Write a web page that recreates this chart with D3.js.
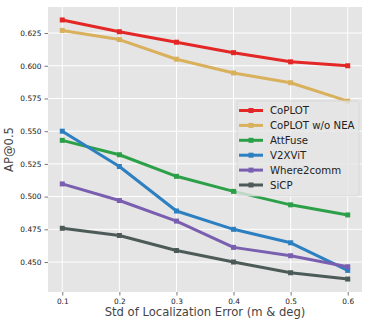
<!DOCTYPE html>
<html>
<head>
<meta charset="utf-8">
<script src="https://cdn.jsdelivr.net/npm/d3@7"></script>
<style>
body { margin: 0; background: #fff; }
text { font-family: "DejaVu Sans", sans-serif; }
</style>
</head>
<body>
<div id="chart"></div>
<script>
const stdErr = [0.1, 0.2, 0.3, 0.4, 0.5, 0.6]
const methods = ["CoPLOT", "CoPLOT w/o NEA", "AttFuse", "V2XViT", "Where2comm", "SiCP"]
const coplot = [0.635, 0.626, 0.618, 0.610, 0.603, 0.600]
const coplotNoNea = [0.627, 0.620, 0.605, 0.5945, 0.587, 0.573]
const attFuse = [0.543, 0.532, 0.5155, 0.504, 0.4937, 0.486]
const v2xvit = [0.550, 0.523, 0.489, 0.475, 0.4647, 0.4436]
const where2comm = [0.5097, 0.497, 0.4813, 0.4612, 0.4548, 0.4464]
const sicp = [0.4758, 0.4703, 0.4588, 0.450, 0.4418, 0.437]
const yTicks = [0.450, 0.475, 0.500, 0.525, 0.550, 0.575, 0.600, 0.625]
const colors = ["#e32626", "#d9b05b", "#2ca049", "#2c7fc0", "#7a5fb0", "#4d5b58"]

const series = [coplot, coplotNoNea, attFuse, v2xvit, where2comm, sicp]

width = 372
height = 326
margin = ({top: 7, right: 10, bottom: 34, left: 48})

const svg = d3.select("#chart").append("svg")
    .attr("width", width)
    .attr("height", height)

x = d3.scaleLinear()
    .domain([0.075, 0.625])
    .range([margin.left, width - margin.right])
y = d3.scaleLinear()
    .domain([0.4271, 0.6449])
    .range([height - margin.bottom, margin.top])

svg.append("rect")
    .attr("x", margin.left)
    .attr("y", margin.top)
    .attr("width", width - margin.left - margin.right)
    .attr("height", height - margin.top - margin.bottom)
    .attr("fill", "#e5e5e5")

// grid
svg.append("g").selectAll("line")
    .data(stdErr)
    .join("line")
    .attr("x1", d => x(d)).attr("x2", d => x(d))
    .attr("y1", margin.top).attr("y2", height - margin.bottom)
    .attr("stroke", "#fff").attr("stroke-width", 1)
svg.append("g").selectAll("line")
    .data(yTicks)
    .join("line")
    .attr("x1", margin.left).attr("x2", width - margin.right)
    .attr("y1", d => y(d)).attr("y2", d => y(d))
    .attr("stroke", "#fff").attr("stroke-width", 1)

xAxis = d3.axisBottom(x).tickValues(stdErr).tickFormat(d3.format(".1f"))
    .tickSize(3.5).tickPadding(3)
yAxis = d3.axisLeft(y).tickValues(yTicks).tickFormat(d3.format(".3f"))
    .tickSize(3.5).tickPadding(3)

const gx = svg.append("g")
    .attr("transform", `translate(0,${height - margin.bottom})`)
    .call(xAxis)
const gy = svg.append("g")
    .attr("transform", `translate(${margin.left},0)`)
    .call(yAxis)
for (const g of [gx, gy]) {
    g.select(".domain").remove()
    g.selectAll(".tick line").attr("stroke", "#555").attr("stroke-width", 0.8)
    g.selectAll(".tick text")
        .attr("fill", "#222")
        .style("font-size", "7.4px")
        .style("font-family", "DejaVu Sans")
}

svg.append("text")
    .attr("x", (margin.left + width - margin.right) / 2)
    .attr("y", 316)
    .attr("text-anchor", "middle")
    .attr("fill", "#444")
    .style("font-size", "11.6px")
    .text("Std of Localization Error (m & deg)")

svg.append("text")
    .attr("transform", `translate(13,${(margin.top + height - margin.bottom) / 2}) rotate(-90)`)
    .attr("text-anchor", "middle")
    .attr("fill", "#444")
    .style("font-size", "11.6px")
    .text("AP@0.5")

const line = d3.line()
    .x((d, i) => x(stdErr[i]))
    .y(d => y(d))

const sg = svg.append("g").selectAll("g")
    .data(series)
    .join("g")

sg.append("path")
    .attr("d", d => line(d))
    .attr("fill", "none")
    .attr("stroke", (d, i) => colors[i])
    .attr("stroke-width", 3)
    .attr("stroke-linejoin", "round")

sg.selectAll("rect")
    .data((d, i) => d.map(v => [v, i]))
    .join("rect")
    .attr("x", (d, j) => x(stdErr[j]) - 2.5)
    .attr("y", d => y(d[0]) - 2.5)
    .attr("width", 5)
    .attr("height", 5)
    .attr("fill", d => colors[d[1]])

// legend
const lg = svg.append("g").attr("transform", "translate(237,101)")
lg.append("rect")
    .attr("width", 122)
    .attr("height", 95)
    .attr("rx", 2)
    .attr("fill", "#e5e5e5")
    .attr("fill-opacity", 0.8)
    .attr("stroke", "#d6d6d6")
    .attr("stroke-width", 0.8)
const entry = lg.selectAll(".entry")
    .data(methods)
    .join("g")
    .attr("class", "entry")
    .attr("transform", (d, i) => `translate(0,${9.5 + 14.9 * i})`)
entry.append("line")
    .attr("x1", 2).attr("x2", 26)
    .attr("stroke", (d, i) => colors[i])
    .attr("stroke-width", 3)
entry.append("rect")
    .attr("x", 11.5).attr("y", -2.5)
    .attr("width", 5).attr("height", 5)
    .attr("fill", (d, i) => colors[i])
entry.append("text")
    .attr("x", 33)
    .attr("dy", "0.35em")
    .attr("fill", "#222")
    .style("font-size", "10.2px")
    .text(d => d)
</script>
</body>
</html>
